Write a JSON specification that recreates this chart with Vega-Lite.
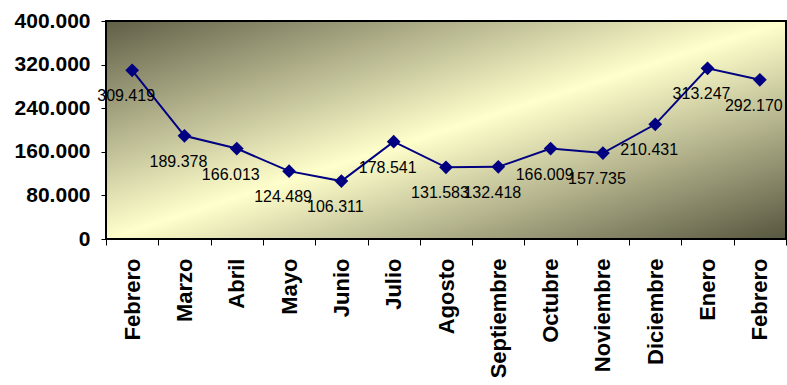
{
  "$schema": "https://vega.github.io/schema/vega-lite/v6.json",
  "width": 680,
  "height": 218,
  "autosize": {"type": "none"},
  "padding": {"left": 106, "top": 21, "right": 1, "bottom": 146},
  "background": "#ffffff",
  "config": {
    "locale": {
      "number": {"decimal": ",", "thousands": ".", "grouping": [3], "currency": ["", " €"]},
      "time": {
        "dateTime": "%A, %e de %B de %Y, %X",
        "date": "%d/%m/%Y",
        "time": "%H:%M:%S",
        "periods": ["AM", "PM"],
        "days": ["Domingo", "Lunes", "Martes", "Miércoles", "Jueves", "Viernes", "Sábado"],
        "shortDays": ["Dom", "Lun", "Mar", "Mié", "Jue", "Vie", "Sáb"],
        "months": ["Enero", "Febrero", "Marzo", "Abril", "Mayo", "Junio", "Julio", "Agosto", "Septiembre", "Octubre", "Noviembre", "Diciembre"],
        "shortMonths": ["Ene", "Feb", "Mar", "Abr", "May", "Jun", "Jul", "Ago", "Sep", "Oct", "Nov", "Dic"]
      }
    },
    "view": {
      "fill": {
        "gradient": "linear",
        "x1": 0, "y1": 0, "x2": 1, "y2": 1,
        "stops": [
          {"offset": 0, "color": "#605f47"},
          {"offset": 0.5, "color": "#ffffcc"},
          {"offset": 1, "color": "#57563f"}
        ]
      },
      "stroke": "#000000",
      "strokeWidth": 2
    },
    "axis": {
      "labelFont": "Liberation Sans",
      "labelFontWeight": "bold",
      "labelFontSize": 21,
      "labelColor": "#000000",
      "domainColor": "#000000",
      "tickColor": "#000000",
      "grid": false,
      "title": null
    }
  },
  "data": {
    "values": [
      {"fecha": "2007-02-15", "valor": 309419},
      {"fecha": "2007-03-15", "valor": 189378},
      {"fecha": "2007-04-15", "valor": 166013},
      {"fecha": "2007-05-15", "valor": 124489},
      {"fecha": "2007-06-15", "valor": 106311},
      {"fecha": "2007-07-15", "valor": 178541},
      {"fecha": "2007-08-15", "valor": 131583},
      {"fecha": "2007-09-15", "valor": 132418},
      {"fecha": "2007-10-15", "valor": 166009},
      {"fecha": "2007-11-15", "valor": 157735},
      {"fecha": "2007-12-15", "valor": 210431},
      {"fecha": "2008-01-15", "valor": 313247},
      {"fecha": "2008-02-15", "valor": 292170}
    ]
  },
  "encoding": {
    "x": {
      "field": "fecha",
      "timeUnit": "yearmonth",
      "type": "ordinal",
      "scale": {"type": "band", "paddingInner": 0, "paddingOuter": 0},
      "axis": {
        "format": "%B",
        "labelAngle": -90,
        "labelAlign": "right",
        "labelBaseline": "middle",
        "labelFontSize": 22,
        "tickBand": "extent",
        "tickSize": 6,
        "labelPadding": 13
      }
    },
    "y": {
      "field": "valor",
      "type": "quantitative",
      "scale": {"domain": [0, 400000], "nice": false},
      "axis": {
        "values": [0, 80000, 160000, 240000, 320000, 400000],
        "format": ",d",
        "tickSize": 5,
        "labelPadding": 11
      }
    }
  },
  "layer": [
    {"mark": {"type": "line", "color": "#000080", "strokeWidth": 2}},
    {"mark": {"type": "point", "shape": "diamond", "filled": true, "size": 190, "color": "#000080", "opacity": 1}},
    {
      "mark": {"type": "text", "font": "Liberation Sans", "fontSize": 16, "color": "#000000", "dy": 26, "dx": -6},
      "encoding": {"text": {"field": "valor", "type": "quantitative", "format": ",d"}}
    }
  ]
}
